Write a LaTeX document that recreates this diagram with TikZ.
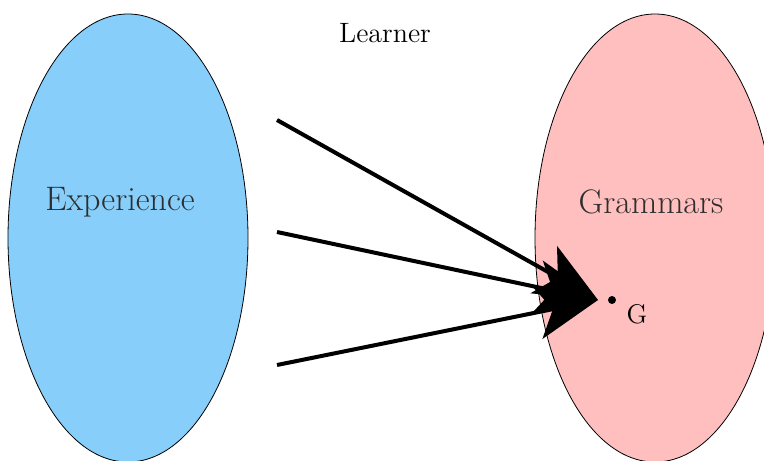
\documentclass[tikz,border=0pt]{standalone}
\usetikzlibrary{shapes.geometric,arrows.meta}
\definecolor{expblue}{HTML}{87CEFA}
\definecolor{grampink}{HTML}{FFBFBF}
\definecolor{labgray}{HTML}{2E2E2E}
\begin{document}
\begin{tikzpicture}[x=0.5pt,y=-0.5pt,
  blob/.style={ellipse,draw=black,line width=0.4pt,minimum width=120pt,minimum height=224pt,inner sep=0pt},
  bigtext/.style={text=labgray,font=\fontsize{17}{20}\selectfont,inner sep=0pt},
  mapping/.style={line width=2pt,-{Stealth[length=31pt,width=27pt,inset=8pt]}}]
\useasboundingbox (0,0) rectangle (764,460);
\node[blob,fill=expblue] (exp) at (128,238) {};
\node[blob,fill=grampink] (gram) at (655,238) {};
\node[bigtext] (explab) at (120,202) {Experience};
\node[bigtext] (gramlab) at (651,202) {Grammars};
\node[inner sep=0pt,font=\fontsize{14}{16}\selectfont] (learner) at (385,33) {Learner};
\fill (612,300) circle[radius=2pt];
\node[inner sep=0pt,font=\fontsize{13.5}{16}\selectfont] (g) at (637,314) {G};
\coordinate (s1) at (277,120);
\coordinate (s2) at (277,232);
\coordinate (s3) at (277,365);
\coordinate (t) at (598,300);
\draw[mapping] (s1) -- (t);
\draw[mapping] (s2) -- (t);
\draw[mapping] (s3) -- (t);
\end{tikzpicture}
\end{document}
